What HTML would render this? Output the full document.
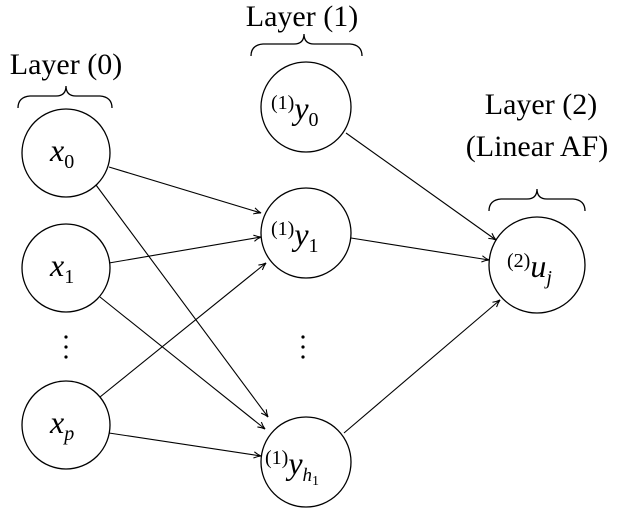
<!DOCTYPE html>
<html><head><meta charset="utf-8"><style>
html,body{margin:0;padding:0;background:#fff}
svg{display:block}
</style></head><body>
<svg width="622" height="524" viewBox="0 0 622 524" xmlns="http://www.w3.org/2000/svg" font-family="'Liberation Serif','DejaVu Serif',serif">
<defs>
<marker id="a" viewBox="0 0 10 10" refX="9" refY="5" markerWidth="9" markerHeight="9" markerUnits="userSpaceOnUse" orient="auto">
<path d="M1,1.5 Q5,4 9,5 Q5,6 1,8.5" fill="none" stroke="#000" stroke-width="1.2"/>
</marker>
</defs>
<g fill="none" stroke="#000" stroke-width="1.3">
<circle cx="66" cy="153" r="44"/>
<circle cx="66" cy="268" r="44"/>
<circle cx="66" cy="425" r="44"/>
<circle cx="306" cy="107" r="45"/>
<circle cx="306" cy="233" r="45"/>
<circle cx="306" cy="462" r="45"/>
<circle cx="537" cy="265" r="48"/>
<path d="M18,108 Q18,97 30,96 L56,96 Q66,96 66,86 Q66,96 76,96 L100,96 Q112,97 112,108"/>
<path d="M251,56 Q251,45 263,44 L294,44 Q304,44 304,34 Q304,44 314,44 L350,44 Q362,45 362,56"/>
<path d="M489,211 Q489,200 501,199 L527,199 Q537,199 537,189 Q537,199 547,199 L573,199 Q585,200 585,211"/>
</g>
<g stroke="#000" stroke-width="1.1" marker-end="url(#a)">
<line x1="109" y1="167" x2="261" y2="213"/>
<line x1="96" y1="185" x2="268" y2="417"/>
<line x1="109" y1="263" x2="261" y2="237"/>
<line x1="100" y1="297" x2="265" y2="429"/>
<line x1="100" y1="397" x2="266" y2="263"/>
<line x1="109" y1="433" x2="261" y2="456"/>
<line x1="346" y1="133" x2="496" y2="240"/>
<line x1="351" y1="238" x2="489" y2="260"/>
<line x1="344" y1="433" x2="500" y2="300"/>
</g>
<g font-size="30" text-anchor="middle" fill="#000">
<text x="66" y="74">Layer (0)</text>
<text x="302" y="26">Layer (1)</text>
<text x="541" y="114">Layer (2)</text>
<text x="537" y="156">(Linear AF)</text>
</g>
<g font-size="32" fill="#000">
<text x="50" y="161" font-style="italic">x<tspan font-size="20" dy="7" font-style="normal">0</tspan></text>
<text x="50" y="276" font-style="italic">x<tspan font-size="20" dy="7" font-style="normal">1</tspan></text>
<text x="50" y="433" font-style="italic">x<tspan font-size="20" dy="7">p</tspan></text>
<text x="271" y="119"><tspan font-size="20" dy="-10">(1)</tspan><tspan font-style="italic" dy="10">y</tspan><tspan font-size="20" dy="7">0</tspan></text>
<text x="271" y="245"><tspan font-size="20" dy="-10">(1)</tspan><tspan font-style="italic" dy="10">y</tspan><tspan font-size="20" dy="7">1</tspan></text>
<text x="265" y="474"><tspan font-size="20" dy="-10">(1)</tspan><tspan font-style="italic" dy="10">y</tspan><tspan font-size="19" dy="7" font-style="italic">h</tspan><tspan font-size="14" dy="4">1</tspan></text>
<text x="507" y="277"><tspan font-size="20" dy="-10">(2)</tspan><tspan font-style="italic" dy="10">u</tspan><tspan font-size="20" dy="7" font-style="italic">j</tspan></text>
</g>
<g fill="#000">
<circle cx="66" cy="337" r="1.6"/><circle cx="66" cy="347" r="1.6"/><circle cx="66" cy="357" r="1.6"/>
<circle cx="303" cy="337" r="1.6"/><circle cx="303" cy="347" r="1.6"/><circle cx="303" cy="357" r="1.6"/>
</g>
</svg>
</body></html>
